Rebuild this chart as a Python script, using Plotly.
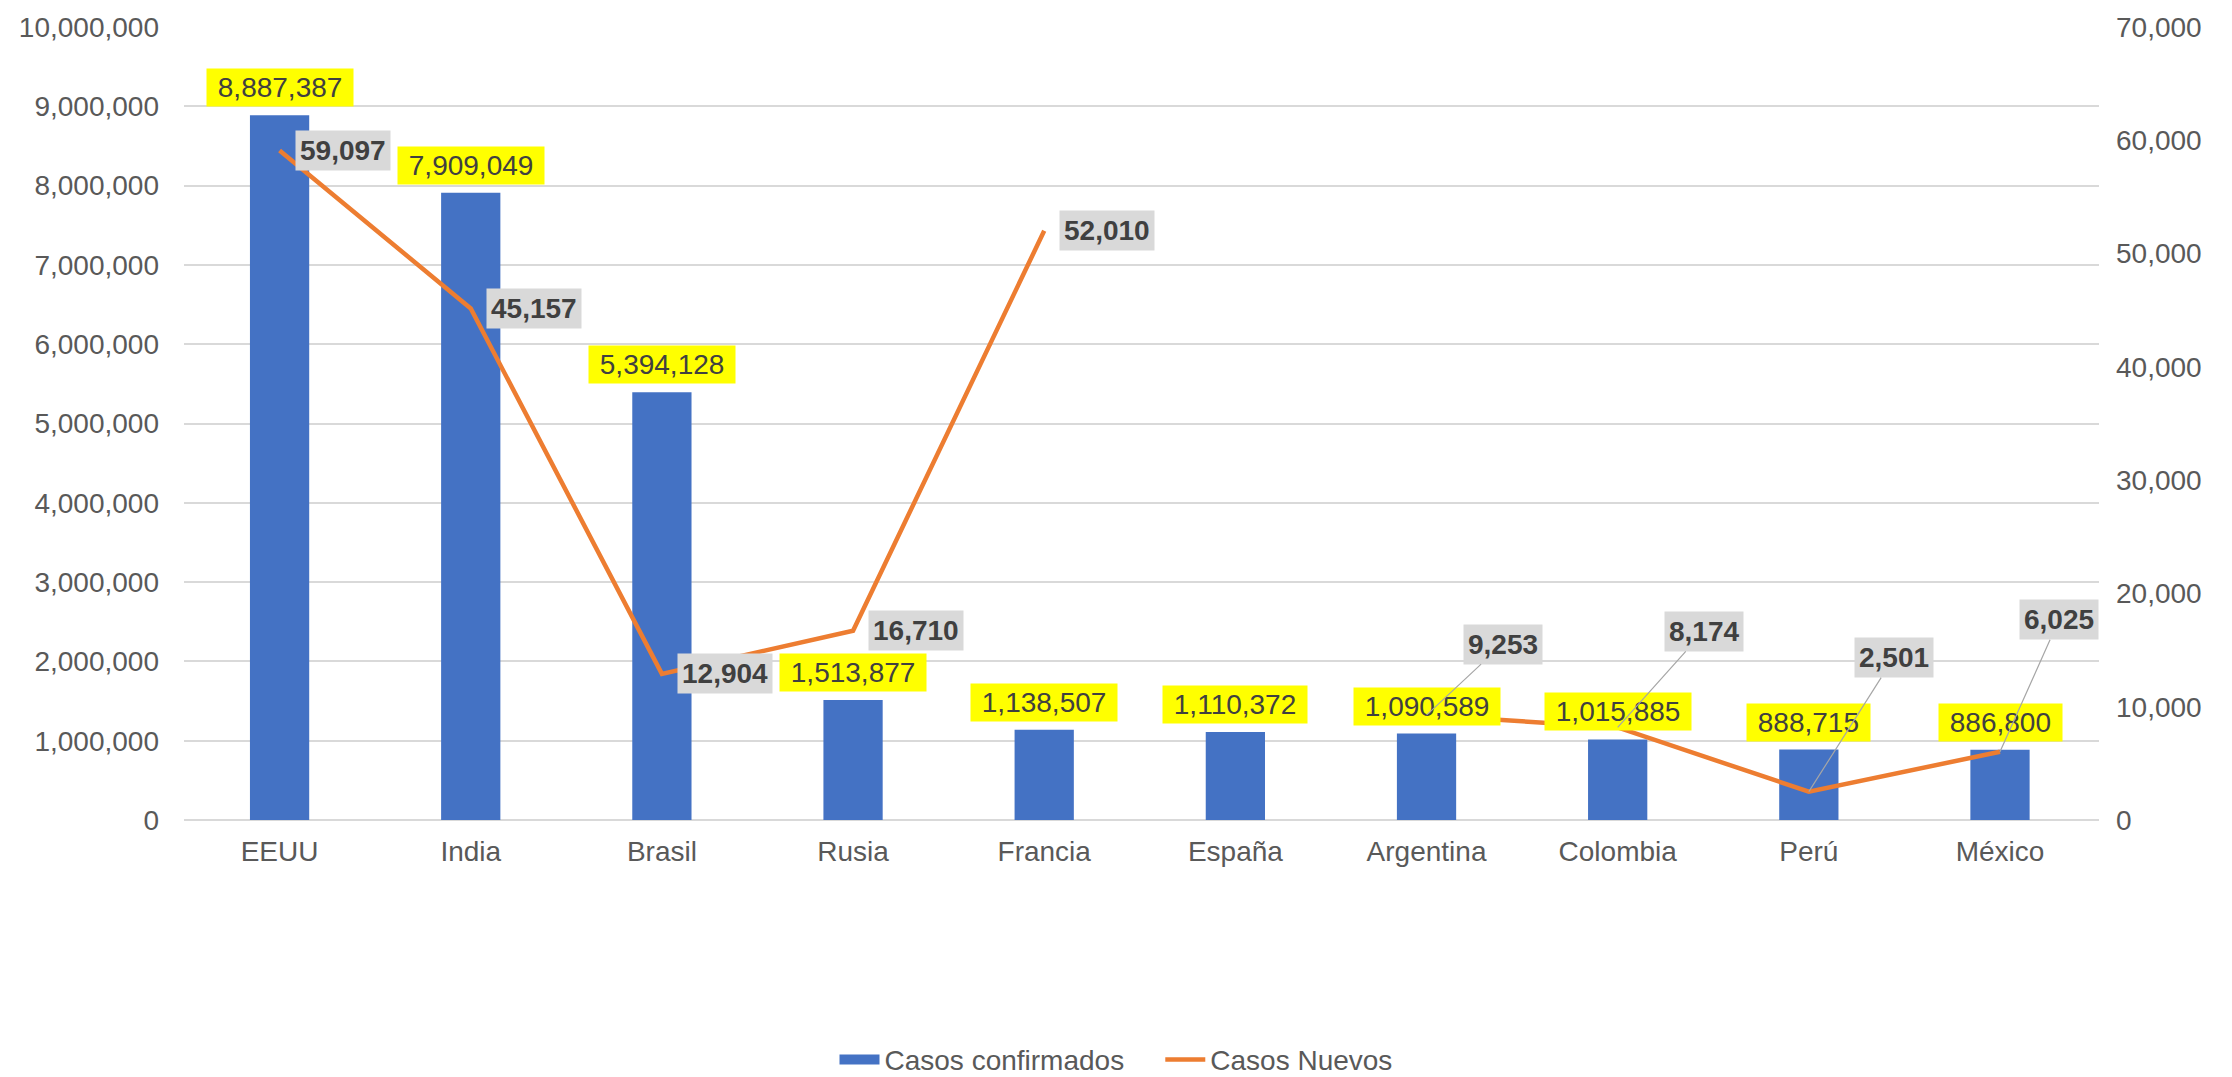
import plotly.graph_objects as go

paises = ["EEUU", "India", "Brasil", "Rusia", "Francia", "España",
          "Argentina", "Colombia", "Perú", "México"]
casos_confirmados = [8887387, 7909049, 5394128, 1513877, 1138507,
                     1110372, 1090589, 1015885, 888715, 886800]
casos_nuevos = [59097, 45157, 12904, 16710, 52010, None,
                9253, 8174, 2501, 6025]

# label offsets (pixels) for the "Casos Nuevos" labels with leader lines
leader_offsets = {"Argentina": (76, -71), "Colombia": (86, -96),
                  "Perú": (85, -134), "México": (59, -132)}

FONT = "Liberation Sans, Arial, sans-serif"
AZUL = "#4472C4"
NARANJA = "#ED7D31"

fig = go.Figure()

fig.add_trace(go.Bar(
    x=paises, y=casos_confirmados, name="Casos confirmados",
    marker=dict(color=AZUL, line=dict(width=0)), width=0.31,
    hoverinfo="x+y", showlegend=False
))

# legend entry for the bars: a wide flat swatch like Excel's
fig.add_trace(go.Scatter(
    x=[None], y=[None], name="Casos confirmados\u00a0\u00a0\u00a0\u00a0", mode="lines",
    line=dict(color=AZUL, width=15), hoverinfo="skip"
))

fig.add_trace(go.Scatter(
    x=paises, y=casos_nuevos, name="Casos Nuevos", yaxis="y2",
    mode="lines", line=dict(color=NARANJA, width=4.5),
    connectgaps=False
))

annotations = []
# yellow labels above the bars
for p, v in zip(paises, casos_confirmados):
    annotations.append(dict(
        x=p, y=v, xref="x", yref="y", text="\u00a0" + f"{v:,}" + "\u00a0",
        showarrow=False, yanchor="bottom", yshift=8,
        bgcolor="#FFFF00", borderpad=3,
        font=dict(family=FONT, size=28, color="#404040")
    ))

# grey labels for the line
for p, v in zip(paises, casos_nuevos):
    if v is None:
        continue
    txt = "<b>" + f"{v:,}" + "</b>"
    if p in leader_offsets:
        ax, ay = leader_offsets[p]
        annotations.append(dict(
            x=p, y=v, xref="x", yref="y2", text=txt,
            showarrow=True, arrowhead=0, arrowwidth=1.2, arrowcolor="#A6A6A6",
            ax=ax, ay=ay, axref="pixel", ayref="pixel",
            bgcolor="#D9D9D9", borderpad=4,
            font=dict(family=FONT, size=28, color="#404040")
        ))
    else:
        annotations.append(dict(
            x=p, y=v, xref="x", yref="y2", text=txt,
            showarrow=False, xanchor="left", xshift=15, yanchor="middle",
            bgcolor="#D9D9D9", borderpad=4,
            font=dict(family=FONT, size=28, color="#404040")
        ))

fig.update_layout(
    width=2232, height=1077,
    margin=dict(l=184, r=133, t=23, b=257),
    paper_bgcolor="white", plot_bgcolor="white",
    font=dict(family=FONT, size=28, color="#595959"),
    bargap=0.69,
    showlegend=True,
    legend=dict(
        orientation="h", xref="container", yref="container",
        x=0.5, xanchor="center", y=0.016, yanchor="middle",
        font=dict(family=FONT, size=28, color="#595959"),
        itemwidth=40, tracegroupgap=0
    ),
    xaxis=dict(
        showgrid=False, showline=False, ticks="",
        tickfont=dict(family=FONT, size=28, color="#595959"),
        ticklabelstandoff=12
    ),
    yaxis=dict(
        range=[0, 10000000], dtick=1000000, tickformat=",d",
        showgrid=True, gridcolor="#D9D9D9", gridwidth=1.5,
        zeroline=True, zerolinecolor="#D9D9D9", zerolinewidth=1.5,
        showline=False, ticks="",
        tickfont=dict(family=FONT, size=28, color="#595959"),
        ticklabelstandoff=24
    ),
    yaxis2=dict(
        range=[0, 70000], dtick=10000, tickformat=",d",
        overlaying="y", side="right",
        showgrid=False, zeroline=False, showline=False, ticks="",
        tickfont=dict(family=FONT, size=28, color="#595959"),
        ticklabelstandoff=16
    ),
    annotations=annotations,
)

fig.write_html("out.html", config={"displayModeBar": False},
               post_script="document.body.style.margin='0';")
